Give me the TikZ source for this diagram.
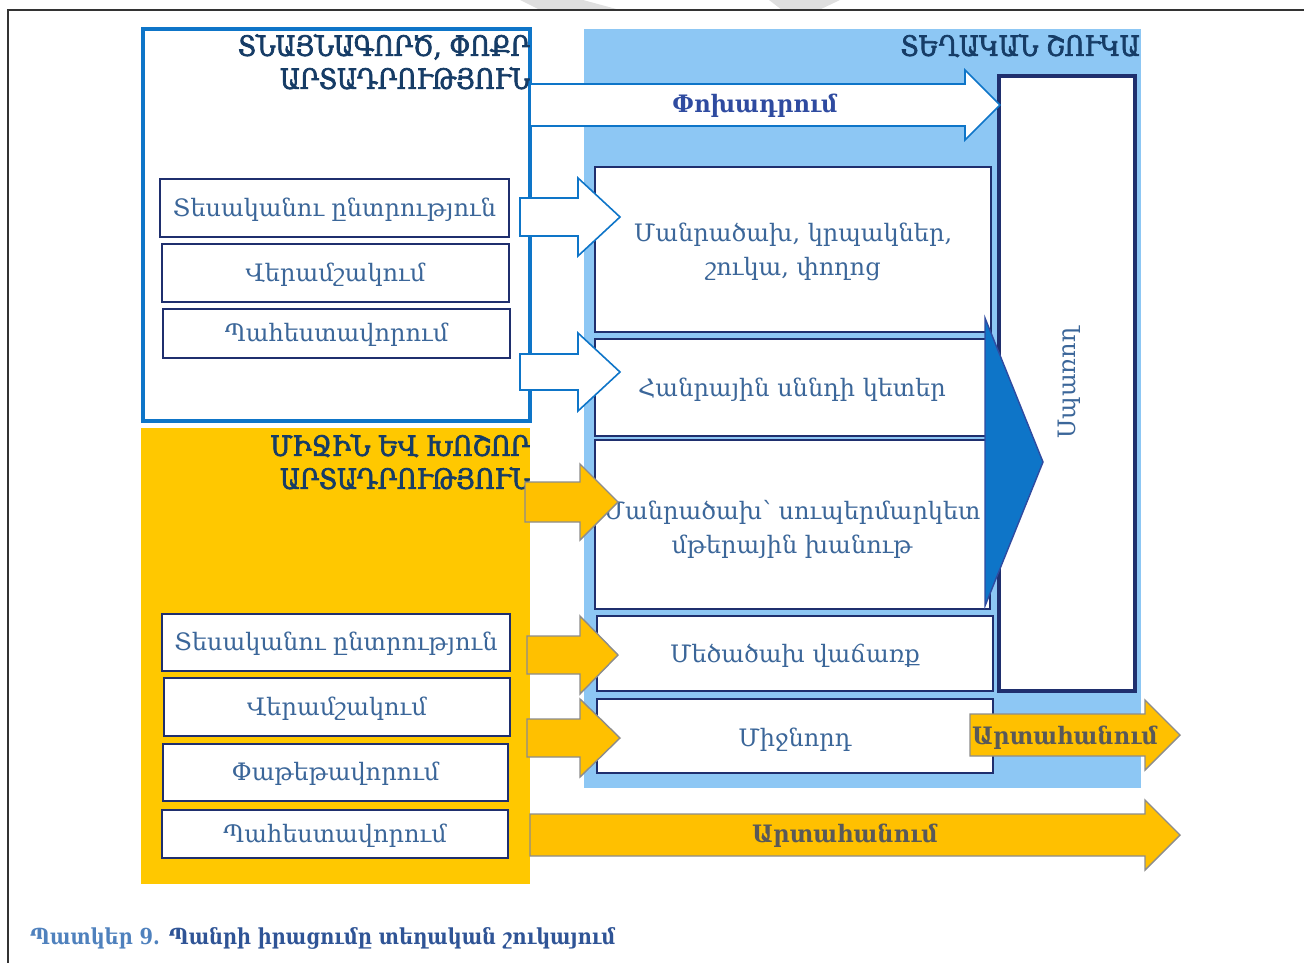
\documentclass[tikz,border=0pt]{standalone}
\usepackage{fontspec}
\setmainfont{DejaVu Serif}
\newfontfamily\boxfont{DejaVu Serif}
\newfontfamily\narrowfont[FakeStretch=0.94]{DejaVu Serif}
\newfontfamily\titlefont[FakeStretch=0.88,FakeBold=2.5]{DejaVu Serif}
\newfontfamily\capfont[FakeStretch=0.88]{DejaVu Serif}
\definecolor{lightbl}{HTML}{8DC7F4}
\definecolor{midbl}{HTML}{0E75C8}
\definecolor{yelreg}{HTML}{FFC800}
\definecolor{yelarr}{HTML}{FFC000}
\definecolor{arrgray}{HTML}{8C8C8C}
\definecolor{navy}{HTML}{1F2F6E}
\definecolor{txtbl}{HTML}{3B6699}
\definecolor{titlenavy}{HTML}{163C66}
\definecolor{transp}{HTML}{2F4BA0}
\definecolor{exptxt}{HTML}{595959}
\definecolor{capl}{HTML}{4F81BD}
\definecolor{capd}{HTML}{2F5496}
\newcommand{\barrow}[8]{%
  \path[#8] (#1,{#4-#5}) -- (#2,{#4-#5}) -- (#2,{#4-#6}) -- (#3,#4) -- (#2,{#4+#6}) -- (#2,{#4+#5}) -- (#1,{#4+#5}) -- cycle;
  \coordinate (#7) at ({(#1+#2)/2},#4);}
\tikzset{
  boxw/.style={draw=navy, line width=2.6pt, fill=white},
  btxt/.style={text=txtbl, font=\boxfont\fontsize{24}{34}\selectfont, align=center, inner sep=0pt},
  ttl/.style={text=titlenavy, font=\titlefont\fontsize{28}{33}\selectfont, align=right, inner sep=0pt, anchor=north east},
  whitearr/.style={draw=midbl, line width=1.6pt, fill=white},
  yelarrow/.style={draw=arrgray, line width=1.4pt, fill=yelarr},
  exptext/.style={text=exptxt, font=\narrowfont\bfseries\fontsize{24}{29}\selectfont, inner sep=0pt},
}
\begin{document}
\begin{tikzpicture}[x=1pt,y=-1pt]
\useasboundingbox (0,0) rectangle (1304,963);
% watermark fragments and page frame
\fill[gray!25] (520,0) -- (583,0) -- (620,10) -- (540,10) -- cycle;
\fill[gray!25] (769,0) -- (840,0) -- (819,10) -- (782,10) -- cycle;
\draw[black!80, line width=1.2pt] (8,963) -- (8,10) -- (1304,10);
% regions
\fill[lightbl] (584,29) rectangle (1141,788);
\fill[yelreg] (141,428) rectangle (530,884);
\draw[midbl, line width=3.4pt, fill=white] (143,29) rectangle (530,421);
% titles
\node[ttl] (t1) at (530,34) {ՏՆԱՅՆԱԳՈՐԾ, ՓՈՔՐ\\ԱՐՏԱԴՐՈՒԹՅՈՒՆ};
\node[ttl] (t2) at (1140,34) {ՏԵՂԱԿԱՆ ՇՈՒԿԱ};
\node[ttl] (t3) at (530,434) {ՄԻՋԻՆ ԵՎ ԽՈՇՈՐ\\ԱՐՏԱԴՐՈՒԹՅՈՒՆ};
% left top boxes
\draw[boxw] (160,179) rectangle (509,237);
\node[btxt] (l1) at (334.5,210) {Տեսականու ընտրություն};
\draw[boxw] (162,244) rectangle (509,302);
\node[btxt] (l2) at (335.5,275) {Վերամշակում};
\draw[boxw] (163,309) rectangle (510,358);
\node[btxt] (l3) at (336.5,335) {Պահեստավորում};
% left bottom boxes
\draw[boxw] (162,614) rectangle (510,671);
\node[btxt] (m1) at (336,644) {Տեսականու ընտրություն};
\draw[boxw] (164,678) rectangle (510,736);
\node[btxt] (m2) at (337,709) {Վերամշակում};
\draw[boxw] (163,744) rectangle (508,801);
\node[btxt] (m3) at (335.5,774) {Փաթեթավորում};
\draw[boxw] (162,810) rectangle (508,858);
\node[btxt] (m4) at (335,836) {Պահեստավորում};
% consumer box
\draw[boxw, line width=3.2pt] (999,76) rectangle (1135,691);
\node[btxt, rotate=90] (cons) at (1069,383) {Սպառող};
% right boxes
\draw[boxw] (595,167) rectangle (991,332);
\node[btxt] (r1) at (793,252) {Մանրածախ, կրպակներ,\\շուկա, փողոց};
\draw[boxw] (595,339) rectangle (989,436);
\node[btxt] (r2) at (792,390) {Հանրային սննդի կետեր};
\draw[boxw] (595,440) rectangle (990,609);
\node[btxt] (r3) at (792,529) {Մանրածախ՝ սուպերմարկետ\\մթերային խանութ};
\draw[boxw] (597,616) rectangle (993,691);
\node[btxt] (r4) at (795,656) {Մեծածախ վաճառք};
\draw[boxw] (597,699) rectangle (993,773);
\node[btxt] (r5) at (795,740) {Միջնորդ};
% big blue chevron
\draw[draw=transp, line width=1.4pt, fill=midbl] (985,318) -- (1043,462) -- (985,606) -- cycle;
% arrows
\barrow{530}{965}{1000}{105}{21}{35}{aT}{whitearr}
\node[text=transp, font=\narrowfont\bfseries\fontsize{24}{29}\selectfont, inner sep=0pt] (tr) at (755,106) {Փոխադրում};
\barrow{520}{578}{620}{217}{19}{39}{aW1}{whitearr}
\barrow{520}{578}{620}{372}{18}{39}{aW2}{whitearr}
\barrow{525}{580}{618}{502}{20}{38}{aY1}{yelarrow}
\barrow{527}{580}{618}{655}{19}{39}{aY2}{yelarrow}
\barrow{527}{580}{620}{738}{19}{39}{aY3}{yelarrow}
\barrow{530}{1145}{1180}{835}{21}{35}{aE1}{yelarrow}
\barrow{970}{1145}{1180}{735}{21}{35}{aE2}{yelarrow}
\node[exptext] (e1) at (845,836) {Արտահանում};
\node[exptext, anchor=west] (e2) at (972,738) {Արտահանում};
% caption
\node[anchor=west, inner sep=0pt, font=\capfont\bfseries\fontsize{22}{26}\selectfont] (cap) at (30,938) {\textcolor{capl}{Պատկեր 9.} \textcolor{capd}{Պանրի իրացումը տեղական շուկայում}};
\end{tikzpicture}
\end{document}
